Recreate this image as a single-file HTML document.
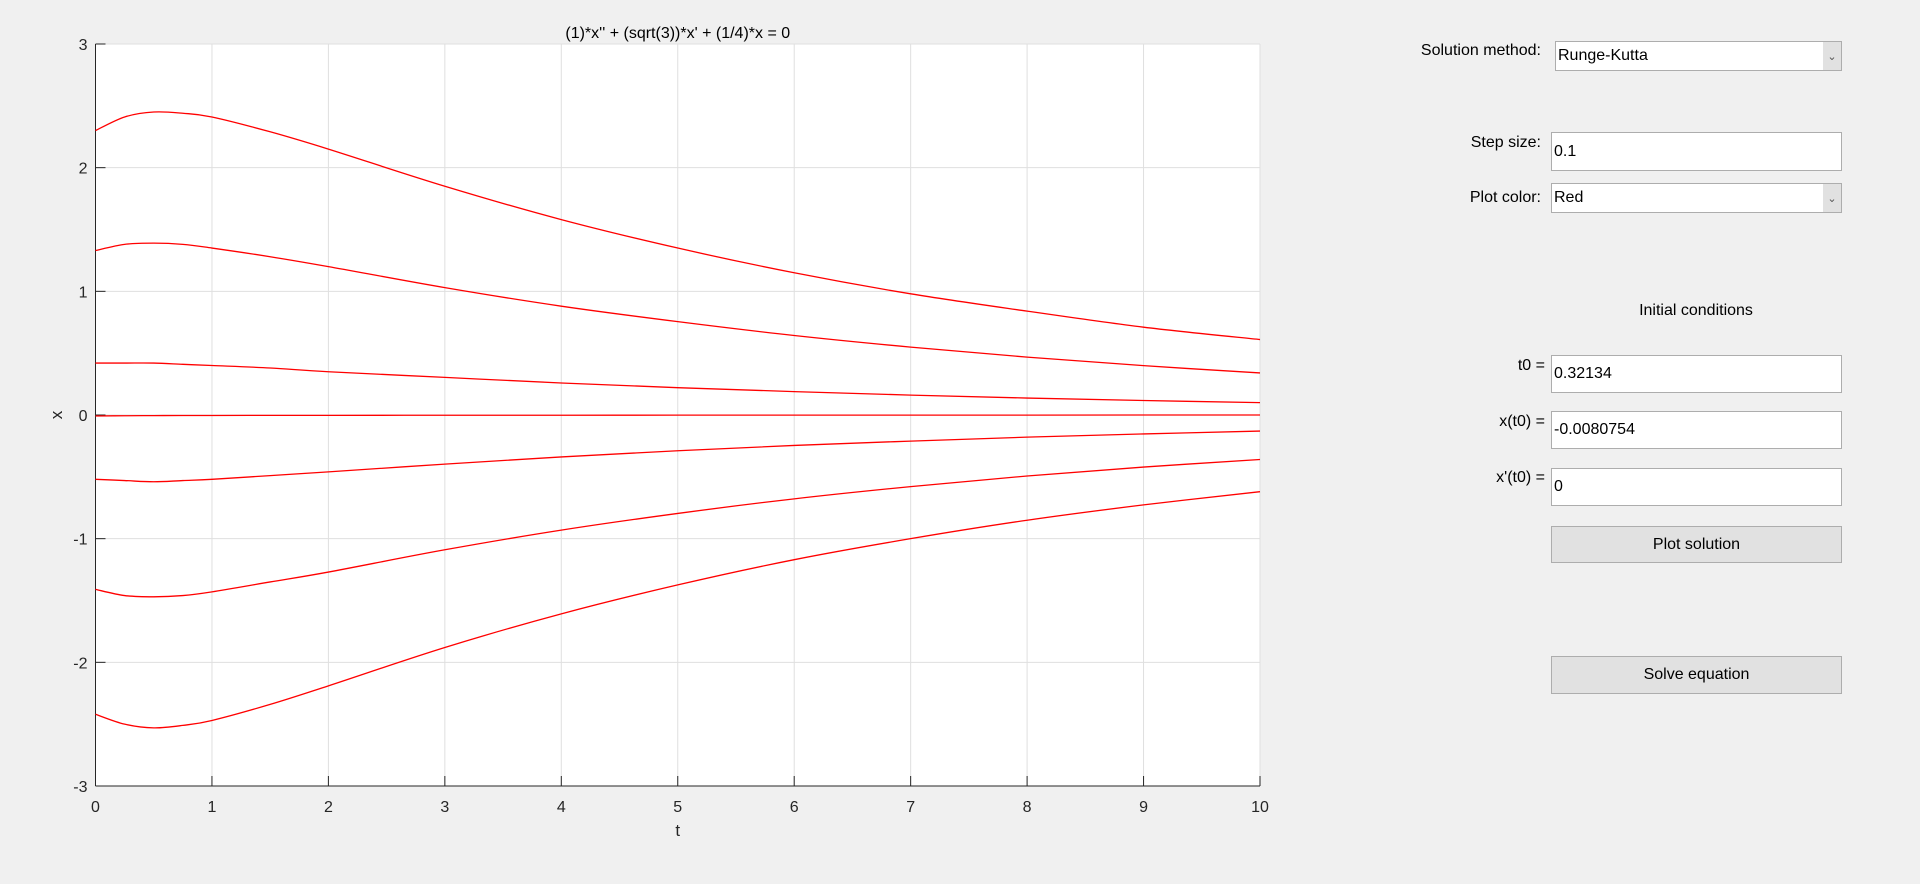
<!DOCTYPE html>
<html><head><meta charset="utf-8"><style>
body{margin:0;width:1920px;height:884px;background:#f0f0f0;font-family:"Liberation Sans",sans-serif;overflow:hidden;position:relative}
.lbl{position:absolute;font-size:16px;color:#000;text-align:right}
.box{position:absolute;background:#fff;border:1px solid #adadad;box-sizing:border-box;font-size:16px;padding-left:2px;display:flex;align-items:center}
.dd .arr{position:absolute;right:0;top:0;bottom:0;width:18px;background:#e1e1e1;font-size:11px;display:flex;align-items:center;justify-content:center;color:#555}
.btn{position:absolute;background:#e1e1e1;border:1px solid #adadad;box-sizing:border-box;font-size:16px;display:flex;align-items:center;justify-content:center}
</style></head><body>
<svg id="chart" width="1920" height="884" style="position:absolute;left:0;top:0"></svg>

<div class="lbl" style="left:1400px;top:42px;width:141px">Solution method:</div>
<div class="box dd" style="left:1555px;top:41px;width:287px;height:30px">Runge-Kutta<span class="arr">&#8964;</span></div>
<div class="lbl" style="left:1400px;top:134px;width:141px">Step size:</div>
<div class="box" style="left:1551px;top:132px;width:291px;height:39px">0.1</div>
<div class="lbl" style="left:1400px;top:189px;width:141px">Plot color:</div>
<div class="box dd" style="left:1551px;top:183px;width:291px;height:30px">Red<span class="arr">&#8964;</span></div>
<div class="lbl" style="left:1596px;top:302px;width:200px;text-align:center">Initial conditions</div>
<div class="lbl" style="left:1440px;top:357px;width:105px">t0 =</div>
<div class="box" style="left:1551px;top:355px;width:291px;height:38px">0.32134</div>
<div class="lbl" style="left:1440px;top:413px;width:105px">x(t0) =</div>
<div class="box" style="left:1551px;top:411px;width:291px;height:38px">-0.0080754</div>
<div class="lbl" style="left:1440px;top:469px;width:105px">x'(t0) =</div>
<div class="box" style="left:1551px;top:468px;width:291px;height:38px">0</div>
<div class="btn" style="left:1551px;top:526px;width:291px;height:37px">Plot solution</div>
<div class="btn" style="left:1551px;top:656px;width:291px;height:38px">Solve equation</div>

<script>
const tVals=[0,0.25,0.5,0.75,1,1.5,2,3,4,5,6,7,8,9,10];
const curve1=[2.30,2.41,2.45,2.44,2.41,2.29,2.15,1.85,1.58,1.35,1.15,0.98,0.84,0.71,0.61];
const curve2=[1.33,1.38,1.39,1.38,1.35,1.28,1.20,1.03,0.88,0.755,0.643,0.549,0.468,0.399,0.34];
const curve3=[0.42,0.42,0.42,0.41,0.40,0.38,0.35,0.304,0.259,0.221,0.189,0.161,0.137,0.117,0.10];
const curve4=[-0.008,-0.006,-0.005,-0.004,-0.004,-0.003,-0.003,-0.002,-0.002,-0.001,-0.001,-0.001,-0.001,0,0];
const curve5=[-0.52,-0.53,-0.54,-0.53,-0.52,-0.49,-0.46,-0.397,-0.339,-0.289,-0.246,-0.211,-0.179,-0.153,-0.13];
const curve6=[-1.41,-1.46,-1.47,-1.46,-1.43,-1.35,-1.27,-1.09,-0.931,-0.796,-0.678,-0.579,-0.493,-0.421,-0.36];
const curve7=[-2.42,-2.50,-2.53,-2.51,-2.47,-2.34,-2.19,-1.88,-1.608,-1.374,-1.17,-1.0,-0.851,-0.727,-0.62];
const xTicks=[0,1,2,3,4,5,6,7,8,9,10];
const yTicks=[-3,-2,-1,0,1,2,3];

const svg=document.getElementById('chart');
const NS='http://www.w3.org/2000/svg';
const L=95.5,R=1260,T=44,B=786;
const sx=v=>L+(v-0)/(10-0)*(R-L);
const sy=v=>B-(v+3)/6*(B-T);
function mk(tag,attrs,parent){const e=document.createElementNS(NS,tag);for(const k in attrs)e.setAttribute(k,attrs[k]);(parent||svg).appendChild(e);return e;}
mk('rect',{x:L,y:T,width:R-L,height:B-T,fill:'#fff'});
xTicks.forEach(v=>{
  const g=mk('line',{x1:sx(v),x2:sx(v),y1:T,y2:B,stroke:'#dfdfdf','stroke-width':1});
  
  
  mk('line',{x1:sx(v),x2:sx(v),y1:B,y2:B-10,stroke:'#262626'});
  const t=mk('text',{x:sx(v),y:B+26,'text-anchor':'middle','font-size':16,fill:'#262626'});
  t.textContent=v;
  
  
});
yTicks.forEach(v=>{
  const g=mk('line',{x1:L,x2:R,y1:sy(v),y2:sy(v),stroke:'#dfdfdf','stroke-width':1});
  
  
  mk('line',{x1:L,x2:L+10,y1:sy(v),y2:sy(v),stroke:'#262626'});
  const t=mk('text',{x:L-8,y:sy(v)+6,'text-anchor':'end','font-size':16,fill:'#262626'});
  t.textContent=v;
  
  
});
mk('line',{x1:L,x2:L,y1:T,y2:B,stroke:'#262626'});
mk('line',{x1:L,x2:R,y1:B,y2:B,stroke:'#262626'});
[curve1,curve2,curve3,curve4,curve5,curve6,curve7].forEach((c,i)=>{
  const p=tVals.map((t,j)=>[sx(t),sy(c[j])]);
  let d='M'+p[0][0]+','+p[0][1];
  for(let j=0;j<p.length-1;j++){
    const p0=p[Math.max(j-1,0)],p1=p[j],p2=p[j+1],p3=p[Math.min(j+2,p.length-1)];
    const c1=[p1[0]+(p2[0]-p0[0])/6,p1[1]+(p2[1]-p0[1])/6];
    const c2=[p2[0]-(p3[0]-p1[0])/6,p2[1]-(p3[1]-p1[1])/6];
    d+=' C'+c1[0]+','+c1[1]+' '+c2[0]+','+c2[1]+' '+p2[0]+','+p2[1];
  }
  const path=mk('path',{d:d,fill:'none',stroke:'#ff0000','stroke-width':1.3});
  
  
});
const title=mk('text',{x:(L+R)/2,y:38,'text-anchor':'middle','font-size':16,fill:'#000'});
title.textContent="(1)*x'' + (sqrt(3))*x' + (1/4)*x = 0";


const xl=mk('text',{x:(L+R)/2,y:836,'text-anchor':'middle','font-size':17,fill:'#262626'});
xl.textContent='t';


const yl=mk('text',{x:62,y:(T+B)/2,'text-anchor':'middle','font-size':17,fill:'#262626',transform:'rotate(-90 62 '+((T+B)/2)+')'});
yl.textContent='x';


</script>
</body></html>
